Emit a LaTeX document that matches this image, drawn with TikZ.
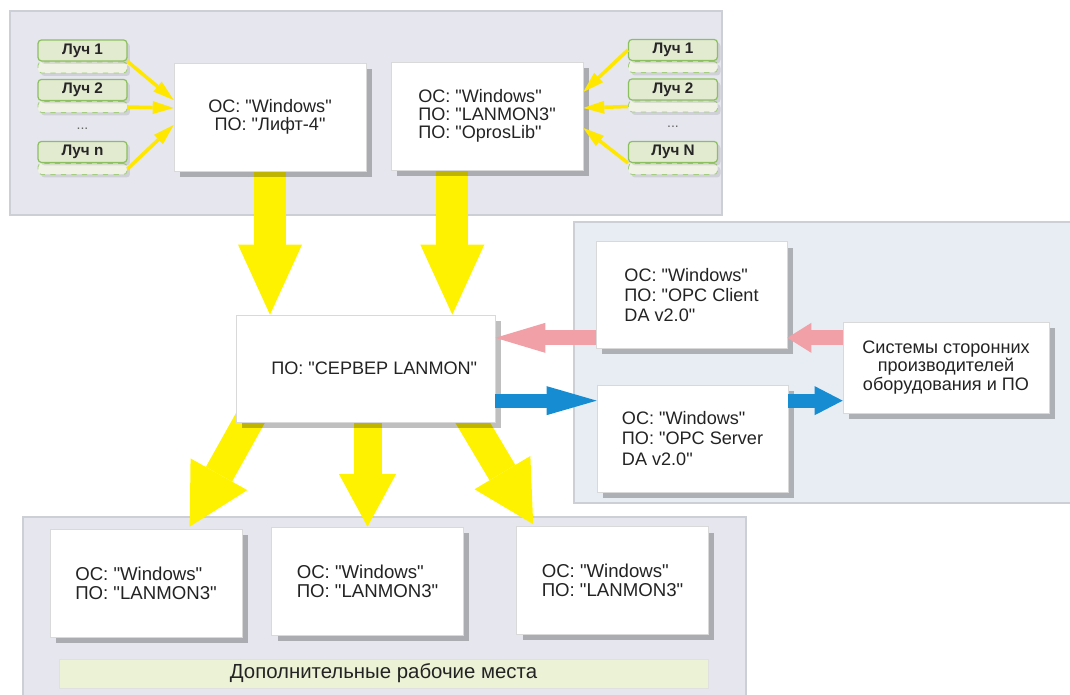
\documentclass[tikz,border=0pt]{standalone}
\usepackage{fontspec}
\setmainfont{Liberation Sans}[Ligatures=TeXOff]
\usetikzlibrary{positioning, arrows.meta, shadows, calc}

\definecolor{panelgray}{RGB}{229,230,238}
\definecolor{panelblue}{RGB}{231,237,243}
\definecolor{panelline}{RGB}{205,207,215}
\definecolor{luchfill}{RGB}{226,234,208}
\definecolor{luchlow}{RGB}{239,242,228}
\definecolor{luchline}{RGB}{140,192,95}
\definecolor{barfill}{RGB}{236,242,214}
\definecolor{arrowyellow}{RGB}{255,242,0}
\definecolor{arrowpink}{RGB}{240,160,166}
\definecolor{arrowblue}{RGB}{22,140,210}
\definecolor{textgray}{RGB}{35,35,35}

\pgfdeclarelayer{panels}
\pgfdeclarelayer{flows}
\pgfsetlayers{panels,flows,main}

\tikzset{
  panel/.style={draw=panelline, line width=0.6pt},
  pc/.style={draw=black!15, fill=white, line width=0.4pt, inner sep=0pt,
    minimum width=3.84cm, minimum height=2.16cm, text=textgray,
    font=\fontsize{10.3}{10.4}\selectfont,
    drop shadow={shadow xshift=0.12cm, shadow yshift=-0.12cm, fill=black, opacity=0.25}},
  opc/.style={minimum width=3.82cm, minimum height=2.14cm, align=left,
    font=\fontsize{10.3}{11.6}\selectfont},
  ws/.style={align=left, font=\fontsize{10.6}{10.8}\selectfont},
  luchhead/.style={draw=luchline, fill=luchfill, line width=0.7pt, rounded corners=2pt,
    minimum width=1.78cm, minimum height=0.42cm, inner sep=0pt,
    font=\fontsize{8.7}{9}\selectfont\bfseries, text=black!85,
    drop shadow={shadow xshift=0.06cm, shadow yshift=-0.06cm, opacity=0.2}},
  luchbody/.style={draw=luchline!80, dashed, fill=luchlow, line width=0.5pt, rounded corners=2pt,
    minimum width=1.78cm, minimum height=0.22cm, inner sep=0pt,
    drop shadow={shadow xshift=0.06cm, shadow yshift=-0.06cm, opacity=0.2}},
  dots/.style={font=\fontsize{8}{8}\selectfont, text=black!60},
  bar/.style={draw=black!12, fill=barfill, minimum width=12.98cm, minimum height=0.58cm,
    inner sep=0pt, font=\fontsize{11.6}{12}\selectfont, text=textgray},
  bigflow/.style={draw=arrowyellow, line width=#1},
  bigflow/.default=0.64cm,
  beam/.style={draw=arrowyellow!90!orange, line width=0.07cm,
    -{Triangle[length=0.42cm, width=0.26cm, line width=0pt]}},
  pinkflow/.style={draw=arrowpink, line width=0.3cm,
    -{Triangle[length=#1, width=0.6cm, line width=0pt]}},
  pinkflow/.default=1cm,
  blueflow/.style={draw=arrowblue, line width=0.28cm,
    -{Triangle[length=#1, width=0.58cm, line width=0pt]}},
  blueflow/.default=1cm,
}

\begin{document}
\begin{tikzpicture}[x=0.02cm, y=-0.02cm]
  \useasboundingbox (0,0) rectangle (1070,695);

  \begin{pgfonlayer}{panels}
    \draw[panel, fill=panelgray] (10,11) rectangle (722,215);
    \draw[panel, fill=panelblue] (574,222) rectangle (1076,503);
    \draw[panel, fill=panelgray] (23,517) rectangle (746,702);
  \end{pgfonlayer}

  % computers
  \node[pc, align=center] (lift) at (270,117) {ОС: "Windows"\\ПО: "Лифт-4"};
  \node[pc, align=left] (lanmon) at (487,116) {ОС: "Windows"\\ПО: "LANMON3"\\ПО: "OprosLib"};
  \node[pc, minimum width=5.18cm, minimum height=2.14cm] (server) at (365.5,368.5) {\hspace{0.35cm}ПО: "СЕРВЕР LANMON"};
  \node[pc, opc] (client) at (691.5,295) {ОС: "Windows"\\ПО: "OPC Client\\DA v2.0"};
  \node[pc, opc] (opcsrv) at (692.5,438.5) {ОС: "Windows"\\ПО: "OPC Server\\DA v2.0"};
  \node[pc, minimum width=4.12cm, minimum height=1.82cm, align=center,
    font=\fontsize{10.3}{10.6}\selectfont] (vendors) at (946,367.5)
    {Системы сторонних\\производителей\\оборудования и ПО};
  \node[pc, ws] (ws1) at (146,583) {ОС: "Windows"\\ПО: "LANMON3"};
  \node[pc, ws] (ws2) at (367.5,581) {ОС: "Windows"\\ПО: "LANMON3"};
  \node[pc, ws] (ws3) at (612.5,580.5) {ОС: "Windows"\\ПО: "LANMON3"};
  \node[bar] (places) at (383.5,673.5) {Дополнительные рабочие места};

  % lines (Луч)
  \node[luchbody] (ll1b) at (82.5,67.5) {};
  \node[luchhead, above=0pt of ll1b] (ll1) {Луч 1};
  \node[luchbody] (ll2b) at (82.5,107) {};
  \node[luchhead, above=0pt of ll2b] (ll2) {Луч 2};
  \node[dots] (lldots) at (82.5,129) {...};
  \node[luchbody] (llnb) at (82.5,169) {};
  \node[luchhead, above=0pt of llnb] (lln) {Луч n};

  \node[luchbody] (rr1b) at (673,67) {};
  \node[luchhead, above=0pt of rr1b] (rr1) {Луч 1};
  \node[luchbody] (rr2b) at (673,106.5) {};
  \node[luchhead, above=0pt of rr2b] (rr2) {Луч 2};
  \node[dots] (rrdots) at (673,127) {...};
  \node[luchbody] (rrnb) at (673,169) {};
  \node[luchhead, above=0pt of rrnb] (rrn) {Луч N};

  \draw[beam] (ll1.south east) -- ([yshift=0.34cm]lift.west);
  \draw[beam] (ll2b.east) -- ([yshift=0.18cm]lift.west);
  \draw[beam] (llnb.east) -- ([yshift=-0.16cm]lift.west);
  \draw[beam] (rr1.west) -- ([yshift=0.48cm]lanmon.east);
  \draw[beam] (rr2b.west) -- ([yshift=0.16cm]lanmon.east);
  \draw[beam] (rrnb.north west) -- ([yshift=-0.24cm]lanmon.east);

  % data flows
  \coordinate (la) at ($(lanmon.south west)!0.32!(lanmon.south east)$);
  \coordinate (s1) at ($(server.south west)+(19,-12)$);
  \coordinate (w1) at ($(ws1.north west)+(140,-2)$);
  \coordinate (s3) at ($(server.south east)+(-30,-12)$);
  \coordinate (w3) at ($(ws3.north west)+(17,-2)$);
  \coordinate (pk) at ($(client.south west)+(0,-11)$);
  \coordinate (bl) at ($(opcsrv.north west)+(0,16)$);

  \begin{pgfonlayer}{flows}
    \draw[bigflow, -{Triangle[length=1.4cm, width=1.28cm, line width=0pt]}]
      (lift.south) -- (lift.south |- server.north);
    \draw[bigflow, -{Triangle[length=1.4cm, width=1.28cm, line width=0pt]}]
      (la) -- (la |- server.north);
    \draw[bigflow=0.6cm, -{Triangle[length=1.2cm, width=1.3cm, line width=0pt]}]
      (s1) -- (w1);
    \draw[bigflow=0.56cm, -{Triangle[length=1.05cm, width=1.14cm, line width=0pt]}]
      ([yshift=0.2cm]ws2.north |- server.south) -- (ws2.north);
    \draw[bigflow=0.6cm, -{Triangle[length=1.2cm, width=1.3cm, line width=0pt]}]
      (s3) -- (w3);
  \end{pgfonlayer}

  \draw[pinkflow] (pk) -- (pk -| server.east);
  \draw[pinkflow=0.48cm] (vendors.west |- pk) -- (client.east |- pk);
  \draw[blueflow] (bl -| server.east) -- (bl);
  \draw[blueflow=0.56cm] (opcsrv.east |- bl) -- (vendors.west |- bl);
\end{tikzpicture}
\end{document}
